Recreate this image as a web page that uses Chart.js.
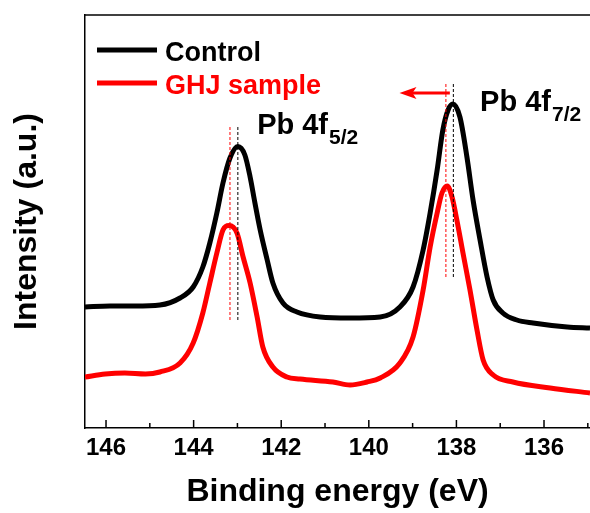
<!DOCTYPE html>
<html><head><meta charset="utf-8">
<script src="https://cdn.jsdelivr.net/npm/chart.js@4/dist/chart.umd.min.js"></script>
<style>html,body{margin:0;padding:0;background:#fff;}</style>
</head><body>
<canvas id="c" width="590" height="513"></canvas>
<script>
// ---- data (binding energy in eV, intensity in a.u.) ----
const energyControl = [146.48,145.91,145.34,144.77,144.31,144.01,143.79,143.63,143.47,143.33,143.17,142.99,142.83,142.71,142.60,142.48,142.32,142.19,141.96,141.64,141.11,140.43,139.74,139.29,138.99,138.76,138.60,138.44,138.31,138.19,138.08,137.92,137.76,137.62,137.46,137.30,137.16,136.94,136.62,136.25,135.47,134.95];
const intensityControl = [121,122,122,123,130,141,161,185,215,245,270,281.5,273,251,225,198,168,145,125,116,111,110,111,121,141,178,215,258,298,318,324,311,271,228,188,151,128,115,108,105,101,100];
const energyGHJ = [146.48,146.02,145.57,145.10,144.77,144.31,144.01,143.79,143.63,143.47,143.33,143.19,143.01,142.87,142.71,142.55,142.42,142.19,141.87,141.57,140.82,140.43,140.04,139.74,139.29,138.99,138.76,138.60,138.44,138.33,138.21,138.10,137.99,137.85,137.69,137.53,137.39,137.16,136.71,135.86,134.95];
const intensityGHJ = [51,54,55,54,56,65,85,115,145,175,198,202.5,195,171,145,111,81,61,51,49,46,43,46,50,65,91,138,181,215,235,242,231,208,175,138,98,68,53,46,40,35];
const seriesLabels = ['Control', 'GHJ sample'];
const seriesColors = ['#000000', '#ff0000'];
const peakControl = [142.99, 138.07];
const peakGHJ = [143.17, 138.24];
const guideLow = [108, 151];
const guideHigh = [303, 346];
const majorTicks = [146, 144, 142, 140, 138, 136];
const minorTicks = [145, 143, 141, 139, 137, 135];
const peakNames = ['Pb 4f', 'Pb 4f'];
const peakSubs = ['5/2', '7/2'];
const peakLabelX = [142.55, 137.46];
const peakLabelY = [294, 317];
const arrowFrom = 138.15, arrowTo = 139.3, arrowY = 335;

const FAM = '"Liberation Sans", Arial, sans-serif';

const curve = (e, v, color, order) => ({
  label: seriesLabels[order], data: e.map((x, i) => ({x, y: v[i]})),
  borderColor: color, borderWidth: 5, pointRadius: 0, fill: false,
  cubicInterpolationMode: 'monotone', order: order + 1
});
const guide = (x, i, color) => ({
  label: 'guide', data: [{x, y: guideLow[i]}, {x, y: guideHigh[i]}],
  borderColor: color, borderWidth: 1, borderDash: [3, 2], pointRadius: 0, fill: false, order: 0
});

const datasets = [
  curve(energyControl, intensityControl, seriesColors[0], 0),
  curve(energyGHJ, intensityGHJ, seriesColors[1], 1),
  ...peakControl.map((p, i) => guide(p, i, seriesColors[0])),
  ...peakGHJ.map((p, i) => guide(p, i, seriesColors[1]))
];

const deco = {
  id: 'deco',
  afterDraw(chart) {
    const ctx = chart.ctx, a = chart.chartArea, xs = chart.scales.x, ys = chart.scales.y;
    ctx.save();
    // top frame line
    ctx.strokeStyle = '#000'; ctx.lineWidth = 1.5;
    ctx.beginPath(); ctx.moveTo(a.left, a.top); ctx.lineTo(a.right, a.top); ctx.stroke();
    // inward ticks
    ctx.lineWidth = 1.5;
    majorTicks.forEach(v => { const x = xs.getPixelForValue(v); ctx.beginPath(); ctx.moveTo(x, a.bottom); ctx.lineTo(x, a.bottom - 8); ctx.stroke(); });
    minorTicks.forEach(v => { const x = xs.getPixelForValue(v); ctx.beginPath(); ctx.moveTo(x, a.bottom); ctx.lineTo(x, a.bottom - 5); ctx.stroke(); });
    // legend
    ctx.font = 'bold 27px ' + FAM; ctx.textBaseline = 'alphabetic'; ctx.textAlign = 'left';
    seriesLabels.forEach((lab, i) => {
      const y = 50 + i * 33;
      ctx.strokeStyle = seriesColors[i]; ctx.lineWidth = 5;
      ctx.beginPath(); ctx.moveTo(97, y); ctx.lineTo(157, y); ctx.stroke();
      ctx.fillStyle = seriesColors[i]; ctx.fillText(lab, 165, y + 11);
    });
    // peak labels
    ctx.fillStyle = '#000';
    peakNames.forEach((nm, i) => {
      const x = xs.getPixelForValue(peakLabelX[i]), y = ys.getPixelForValue(peakLabelY[i]);
      ctx.font = 'bold 29px ' + FAM; ctx.fillText(nm, x, y);
      const w = ctx.measureText(nm).width;
      ctx.font = 'bold 21px ' + FAM; ctx.fillText(peakSubs[i], x + w + 1, y + 10);
    });
    // shift arrow
    const x1 = xs.getPixelForValue(arrowFrom), x2 = xs.getPixelForValue(arrowTo), y = ys.getPixelForValue(arrowY);
    ctx.strokeStyle = '#ff0000'; ctx.fillStyle = '#ff0000'; ctx.lineWidth = 3;
    ctx.beginPath(); ctx.moveTo(x1, y); ctx.lineTo(x2 + 12, y); ctx.stroke();
    ctx.beginPath(); ctx.moveTo(x2, y); ctx.lineTo(x2 + 17, y - 6); ctx.lineTo(x2 + 13, y); ctx.lineTo(x2 + 17, y + 6); ctx.closePath(); ctx.fill();
    ctx.restore();
  }
};

new Chart(document.getElementById('c'), {
  type: 'line',
  data: {datasets},
  options: {
    responsive: false, animation: false, devicePixelRatio: 1,
    layout: {padding: {top: 15, right: 0, left: 0, bottom: 0}},
    plugins: {legend: {display: false}, tooltip: {enabled: false}},
    scales: {
      x: {
        type: 'linear', reverse: true, min: 134.95, max: 146.48,
        afterBuildTicks: s => { s.ticks = majorTicks.map(v => ({value: v})); },
        afterFit: s => { s.height = 85; },
        grid: {display: false, drawTicks: false},
        border: {display: true, color: '#000', width: 1.5},
        ticks: {font: {family: FAM, size: 24, weight: 'bold', lineHeight: 1.2}, color: '#000', padding: 6, maxRotation: 0, autoSkip: false},
        title: {display: true, text: 'Binding energy (eV)', color: '#000', font: {family: FAM, size: 32, weight: 'bold', lineHeight: 1.2}, padding: {top: 0, bottom: 2}}
      },
      y: {
        min: 0, max: 413,
        afterFit: s => { s.width = 85; },
        ticks: {display: false},
        grid: {display: false, drawTicks: false},
        border: {display: true, color: '#000', width: 1.5},
        title: {display: true, text: 'Intensity (a.u.)', color: '#000', font: {family: FAM, size: 32, weight: 'bold', lineHeight: 1.2}, padding: {top: 8, bottom: 0}}
      }
    }
  },
  plugins: [deco]
});
</script>
</body></html>
